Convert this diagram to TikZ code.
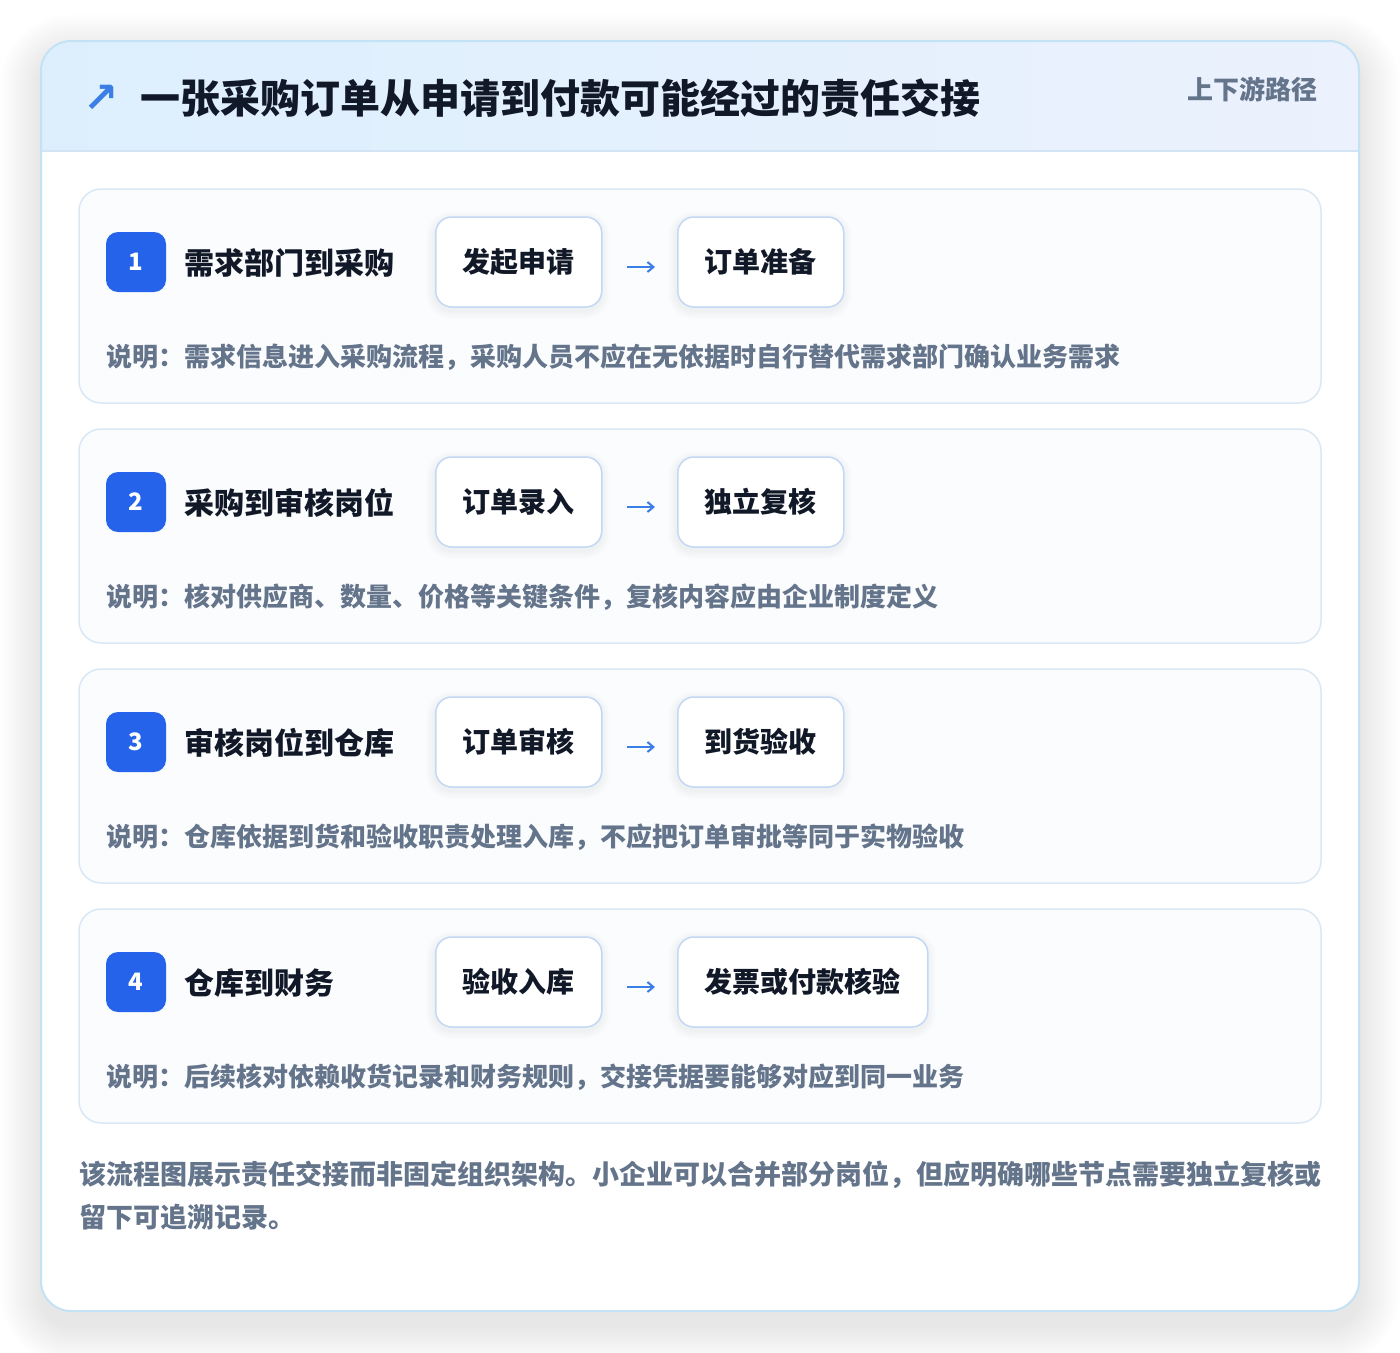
\documentclass[tikz,border=0pt]{standalone}
\usepackage{fontspec}
\setmainfont{Noto Sans CJK SC}
\newfontfamily\dejavu{DejaVu Sans}
\usetikzlibrary{arrows.meta}
\definecolor{cardborder}{HTML}{C3E2F5}
\definecolor{hdrL}{HTML}{DDEFFD}
\definecolor{hdrR}{HTML}{EBF1FD}
\definecolor{hdrline}{HTML}{D3E5F5}
\definecolor{innerborder}{HTML}{DAE8F5}
\definecolor{innerfill}{HTML}{FBFCFE}
\definecolor{boxborder}{HTML}{C2D8F4}
\definecolor{badgeblue}{HTML}{2563EB}
\definecolor{arrowblue}{HTML}{3B7FE6}
\definecolor{darktext}{HTML}{111827}
\definecolor{graytext}{HTML}{64748B}
\begin{document}
\begin{tikzpicture}[x=1pt,y=-1pt,
  innercard/.style={draw=innerborder, line width=1.5pt, fill=innerfill, rounded corners=22pt},
  stepbox/.style={draw=boxborder, line width=1.5pt, fill=white, rounded corners=16pt,
    minimum height=90pt, inner sep=0pt, font=\fontsize{28}{32}\selectfont\bfseries, text=darktext},
  badge/.style={fill=badgeblue, rounded corners=12pt, minimum width=60pt, minimum height=60pt,
    inner sep=0pt, text=white, font=\fontsize{24}{28}\selectfont\bfseries},
  steptitle/.style={anchor=west, inner sep=0pt, text=darktext, font=\fontsize{30}{34}\selectfont\bfseries},
  desc/.style={anchor=west, inner sep=0pt, text=graytext, font=\fontsize{26}{30}\selectfont\bfseries},
  flowarrow/.style={draw=arrowblue, line width=2pt, -{Straight Barb[length=6pt,width=10pt]}}
]
\useasboundingbox (0,0) rectangle (1400,1352);
\fill[white] (0,0) rectangle (1400,1352);
% soft shadow of the outer card
\foreach \k in {1,...,24} {
  \fill[black, opacity=0.0032, rounded corners={30pt+1.7*\k pt}]
    ({41-1.7*\k},{41+14-1.7*\k}) rectangle ({1359+1.7*\k},{1311+14+1.7*\k});
}
% outer card
\fill[white, rounded corners=30pt] (41,41) rectangle (1359,1311);
\begin{scope}
  \clip[rounded corners=30pt] (41,41) rectangle (1359,1311);
  \shade[left color=hdrL, right color=hdrR] (41,41) rectangle (1359,151);
  \draw[hdrline, line width=1.5pt] (41,151) -- (1359,151);
\end{scope}
\draw[cardborder, line width=2pt, rounded corners=30pt] (41,41) rectangle (1359,1311);
% header
\node[anchor=center, inner sep=0pt, text=arrowblue, font=\dejavu\bfseries\fontsize{42}{44}\selectfont] (icon) at (101,99) {↗};
\node[anchor=west, inner sep=0pt, text=darktext, font=\fontsize{40}{44}\selectfont\bfseries] (title) at (140,98)
  {一张采购订单从申请到付款可能经过的责任交接};
\node[anchor=east, inner sep=0pt, text=graytext, font=\fontsize{26}{30}\selectfont\bfseries] (tag) at (1318,89) {上下游路径};
% rows
\foreach \i/\t/\ta/\tb/\w/\d in {
  1/{需求部门到采购}/{发起申请}/{订单准备}/166/{需求信息进入采购流程，采购人员不应在无依据时自行替代需求部门确认业务需求},
  2/{采购到审核岗位}/{订单录入}/{独立复核}/166/{核对供应商、数量、价格等关键条件，复核内容应由企业制度定义},
  3/{审核岗位到仓库}/{订单审核}/{到货验收}/166/{仓库依据到货和验收职责处理入库，不应把订单审批等同于实物验收},
  4/{仓库到财务}/{验收入库}/{发票或付款核验}/250/{后续核对依赖收货记录和财务规则，交接凭据要能够对应到同一业务}} {
  \pgfmathsetmacro\top{189+240*(\i-1)}
  \draw[innercard] (79,\top) rectangle (1321,{\top+214});
  \node[badge] (badge\i) at (136,{\top+73}) {\i};
  \node[steptitle] (title\i) at (184,{\top+74}) {\t};
  \foreach \s in {1,...,6} {
    \fill[black, opacity=0.006, rounded corners={16pt+1.5*\s pt}]
      ({435-1.5*\s},{\top+28+3-1.5*\s}) rectangle ({601+1.5*\s},{\top+118+3+1.5*\s});
    \fill[black, opacity=0.006, rounded corners={16pt+1.5*\s pt}]
      ({677-1.5*\s},{\top+28+3-1.5*\s}) rectangle ({677+\w+1.5*\s},{\top+118+3+1.5*\s});
  }
  \node[stepbox, minimum width=166pt, anchor=west] (ba\i) at (435,{\top+73}) {\ta};
  \node[stepbox, minimum width=\w pt, anchor=west] (bb\i) at (677,{\top+73}) {\tb};
  \draw[flowarrow] ([xshift=24pt,yshift=-5pt]ba\i.east) -- ([xshift=-22pt,yshift=-5pt]bb\i.west);
  \node[desc] (desc\i) at (106,{\top+168}) {说明：\d};
}
% footer
\node[anchor=west, inner sep=0pt, text=graytext, font=\fontsize{27}{30}\selectfont\bfseries] (foot1) at (79,1175)
  {该流程图展示责任交接而非固定组织架构。小企业可以合并部分岗位，但应明确哪些节点需要独立复核或};
\node[anchor=west, inner sep=0pt, text=graytext, font=\fontsize{27}{30}\selectfont\bfseries] (foot2) at (79,1217)
  {留下可追溯记录。};
\end{tikzpicture}
\end{document}
